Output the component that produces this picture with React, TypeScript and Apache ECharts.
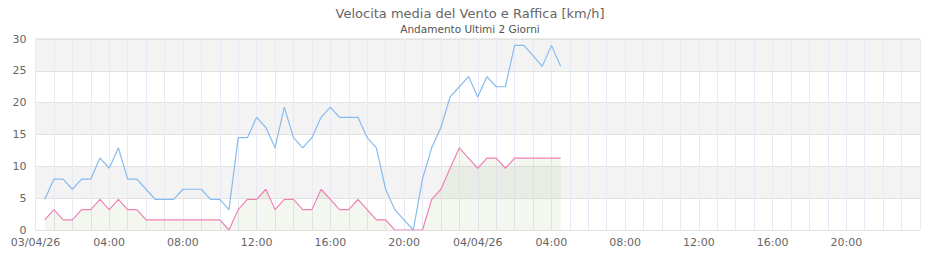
import React, { useEffect, useRef } from "react";
import * as echarts from "echarts";

const TITLE = "Velocita media del Vento e Raffica [km/h]";
const SUBTITLE = "Andamento Ultimi 2 Giorni";
const SERIES_NAMES = ["Raffica", "Velocita media"];

// 03/04/26 00:00 → 05/04/26 00:00
const AXIS_START = Date.UTC(2026, 3, 3, 0, 0);
const AXIS_END = Date.UTC(2026, 3, 5, 0, 0);
const HOUR = 3600 * 1000;
// samples every 30 minutes from 00:30
const FIRST_SAMPLE_HOUR = 0.5;
const SAMPLE_STEP_HOURS = 0.5;

const gust = [
  4.8, 8.0, 8.0, 6.4, 8.0, 8.0, 11.3, 9.7, 12.9, 8.0, 8.0, 6.4, 4.8, 4.8, 4.8, 6.4, 6.4, 6.4, 4.8, 4.8, 3.2,
  14.5, 14.5, 17.7, 16.1, 12.9, 19.3, 14.5, 12.9, 14.5, 17.7, 19.3, 17.7, 17.7, 17.7, 14.5, 12.9, 6.4, 3.2, 1.6, 0,
  8.0, 12.9, 16.1, 20.9, 22.5, 24.1, 20.9, 24.1, 22.5, 22.5, 29.0, 29.0, 27.4, 25.7, 29.0, 25.7,
];

const mean = [
  1.6, 3.2, 1.6, 1.6, 3.2, 3.2, 4.8, 3.2, 4.8, 3.2, 3.2, 1.6, 1.6, 1.6, 1.6, 1.6, 1.6, 1.6, 1.6, 1.6, 0,
  3.2, 4.8, 4.8, 6.4, 3.2, 4.8, 4.8, 3.2, 3.2, 6.4, 4.8, 3.2, 3.2, 4.8, 3.2, 1.6, 1.6, 0, 0, 0,
  0, 4.8, 6.4, 9.7, 12.9, 11.3, 9.7, 11.3, 11.3, 9.7, 11.3, 11.3, 11.3, 11.3, 11.3, 11.3,
];

const yTicks = { min: 0, max: 30, interval: 5 };

const sampleTime = (i: number) => AXIS_START + (FIRST_SAMPLE_HOUR + i * SAMPLE_STEP_HOURS) * HOUR;

const pad = (n: number) => (n < 10 ? "0" + n : "" + n);
const fmtTime = (v: number) => {
  const d = new Date(v);
  const h = d.getUTCHours();
  const m = d.getUTCMinutes();
  if (h === 0 && m === 0) {
    return pad(d.getUTCDate()) + "/" + pad(d.getUTCMonth() + 1) + "/" + pad(d.getUTCFullYear() % 100);
  }
  return pad(h) + ":" + pad(m);
};

export default function App() {
  const ref = useRef<HTMLDivElement>(null);
  useEffect(() => {
    if (!ref.current) return;
    const chart = echarts.init(ref.current, undefined, { renderer: "svg" });
    const font = "DejaVu Sans, sans-serif";
    chart.setOption({
      animation: false,
      backgroundColor: "#ffffff",
      textStyle: { fontFamily: font },
      graphic: [
        {
          type: "text",
          x: 470,
          y: 13,
          style: {
            text: TITLE,
            fontFamily: font,
            fontSize: 13,
            fill: "#666666",
            align: "center",
            verticalAlign: "middle",
          },
        },
        {
          type: "text",
          x: 470,
          y: 28.5,
          style: {
            text: SUBTITLE,
            fontFamily: font,
            fontSize: 10.5,
            fill: "#555555",
            align: "center",
            verticalAlign: "middle",
          },
        },
      ],
      grid: {
        left: 35.5,
        right: 20,
        top: 39,
        bottom: 30,
        show: true,
        borderColor: "#d6d6d6",
        borderWidth: 1,
        backgroundColor: "transparent",
      },
      xAxis: {
        type: "value",
        min: AXIS_START,
        max: AXIS_END,
        interval: 4 * HOUR,
        axisLine: { show: false },
        axisTick: { show: false },
        axisLabel: {
          formatter: (v: number) => fmtTime(v),
          color: "#666666",
          fontSize: 11,
          fontFamily: font,
          margin: 7,
          showMaxLabel: false,
        },
        splitLine: { show: true, lineStyle: { color: "#e8e8f6", width: 1 } },
        minorTick: { show: false, splitNumber: 4 },
        minorSplitLine: { show: true, lineStyle: { color: "#e8e8f6", width: 1 } },
      },
      yAxis: {
        type: "value",
        min: yTicks.min,
        max: yTicks.max,
        interval: yTicks.interval,
        axisLine: { show: false },
        axisTick: { show: false },
        axisLabel: { color: "#666666", fontSize: 11, fontFamily: font, margin: 9 },
        splitLine: { show: true, lineStyle: { color: "#e2e2e2", width: 1 } },
        splitArea: { show: true, areaStyle: { color: ["#ffffff", "#f3f3f3"] } },
      },
      series: [
        {
          name: SERIES_NAMES[0],
          type: "line",
          data: gust.map((v, i) => [sampleTime(i), v]),
          showSymbol: false,
          symbol: "none",
          lineStyle: { color: "#86bbee", width: 1.2 },
          z: 3,
        },
        {
          name: SERIES_NAMES[1],
          type: "line",
          data: mean.map((v, i) => [sampleTime(i), v]),
          showSymbol: false,
          symbol: "none",
          lineStyle: { color: "#ee82b4", width: 1.2 },
          areaStyle: { color: "rgba(150,190,120,0.17)" },
          z: 2,
        },
      ],
    });
    return () => chart.dispose();
  }, []);
  return <div ref={ref} style={{ width: 940, height: 260, margin: -8 }} />;
}
